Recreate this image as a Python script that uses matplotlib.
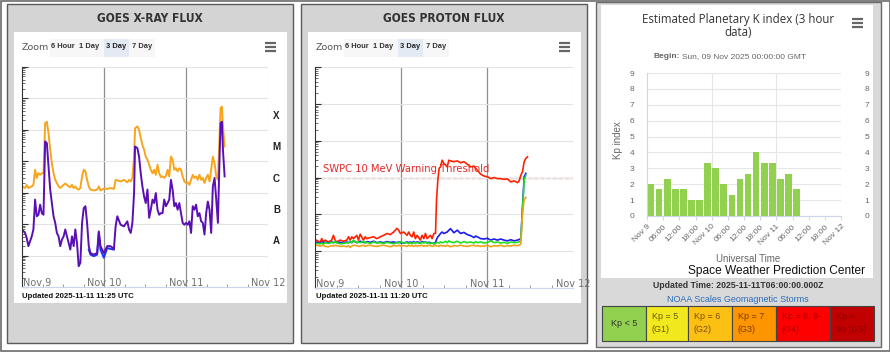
import numpy as np
import matplotlib
matplotlib.use('Agg')
import matplotlib.pyplot as plt
import matplotlib.transforms as mtransforms
from matplotlib.patches import Rectangle
from matplotlib.lines import Line2D
from matplotlib.ticker import LogLocator, NullFormatter

plt.rcParams['font.family'] = ['Liberation Sans', 'DejaVu Sans']

# ---------------- GOES X-ray flux (hours since Nov 9 00:00 UTC, log10 W/m^2) ----------------
xray_hours = [0.0, 0.89, 1.38, 1.87, 2.85, 3.34, 3.83, 4.32, 4.82, 5.31,
              5.80, 6.29, 6.78, 7.27, 7.76, 8.25, 8.74, 9.23, 9.72, 10.21,
              10.70, 11.20, 11.69, 12.18, 12.67, 13.16, 13.65, 14.14, 14.63, 15.12,
              15.61, 16.10, 16.59, 17.08, 17.58, 18.07, 18.56, 19.05, 19.54, 20.03,
              21.01, 21.99, 22.48, 22.97, 23.96, 24.94, 25.92, 26.90, 27.40, 27.89,
              28.87, 29.85, 30.83, 31.32, 31.82, 32.31, 32.80, 33.09, 33.77, 34.26,
              34.75, 35.24, 35.73, 36.22, 36.72, 37.21, 37.70, 38.19, 38.68, 39.17,
              39.66, 40.15, 40.64, 41.13, 41.63, 42.12, 42.61, 43.10, 43.59, 44.08,
              44.57, 45.06, 45.55, 46.04, 46.54, 47.03, 47.52, 48.01, 48.50, 48.99,
              49.48, 49.97, 50.46, 50.95, 51.45, 51.94, 52.43, 52.92, 53.41, 53.90,
              54.39, 54.88, 55.37, 55.86, 56.36, 56.85, 57.34, 57.83, 58.12, 58.51,
              58.81, 59.30]
xray_long_log = [-5.80, -5.85, -5.75, -5.85, -5.80, -5.75, -5.27, -5.53, -5.38, -5.43,
                 -5.38, -5.38, -3.79, -3.74, -4.11, -4.63, -5.06, -5.38, -5.59, -5.69,
                 -5.80, -5.85, -5.80, -5.75, -5.71, -5.75, -5.80, -5.82, -5.75, -5.85,
                 -5.80, -5.88, -5.90, -5.85, -5.48, -5.27, -5.32, -5.59, -5.80, -5.90,
                 -5.93, -5.90, -5.80, -5.93, -5.87, -5.88, -5.85, -5.88, -5.59, -5.61,
                 -5.64, -5.59, -5.67, -5.59, -5.64, -5.53, -4.85, -3.95, -3.89, -4.00,
                 -4.26, -4.48, -4.63, -4.85, -4.95, -5.11, -5.27, -5.38, -5.27, -5.43,
                 -5.11, -5.38, -5.50, -5.48, -5.53, -5.46, -5.27, -5.48, -4.85, -4.95,
                 -5.27, -5.22, -5.32, -5.22, -5.27, -5.48, -5.64, -5.69, -5.67, -5.75,
                 -5.59, -5.43, -5.53, -5.48, -5.59, -5.43, -5.59, -5.53, -5.69, -5.53,
                 -5.43, -5.64, -5.27, -4.85, -5.06, -5.48, -5.59, -4.21, -3.31, -3.26,
                 -3.89, -4.53]
xray_short_log = [-7.17, -7.28, -7.44, -7.70, -7.39, -7.17, -6.22, -6.75, -6.70, -6.38,
                  -6.65, -6.70, -4.37, -4.42, -5.16, -5.90, -6.33, -6.75, -6.96, -7.28,
                  -7.39, -7.70, -7.49, -7.39, -7.17, -7.39, -7.60, -7.81, -7.39, -7.70,
                  -7.17, -7.60, -8.34, -8.23, -6.96, -6.49, -6.43, -6.96, -7.70, -7.92,
                  -7.97, -7.92, -7.23, -7.70, -7.92, -7.70, -7.70, -7.79, -7.07, -6.75,
                  -7.02, -7.07, -6.91, -7.17, -7.28, -6.96, -6.01, -4.53, -4.58, -4.85,
                  -5.38, -5.80, -6.12, -6.33, -5.90, -6.80, -6.54, -6.22, -6.33, -6.01,
                  -6.54, -6.70, -6.65, -6.65, -6.22, -6.43, -6.33, -6.22, -5.59, -5.90,
                  -6.43, -6.33, -6.54, -6.33, -6.65, -6.96, -7.02, -6.96, -7.02, -6.91,
                  -7.28, -6.43, -6.54, -6.38, -6.75, -6.65, -6.91, -6.96, -7.33, -6.65,
                  -6.28, -6.54, -7.28, -5.80, -5.53, -6.22, -6.96, -4.85, -3.79, -3.74,
                  -4.63, -5.48]
# secondary satellite short channel, only visible where it departs from the primary
xray_short2_hours = [19.54, 20.03, 21.01, 21.99, 22.48, 22.97, 23.96, 24.94, 25.92, 26.90]
xray_short2_log = [-7.81, -7.97, -8.02, -7.97, -7.28, -7.81, -8.07, -7.76, -7.79, -7.81]

flare_classes = ['X', 'M', 'C', 'B', 'A']
flare_decades = [-4, -5, -6, -7, -8]
day_labels = ['Nov 9', 'Nov 10', 'Nov 11', 'Nov 12']

# ---------------- GOES proton flux (log10 pfu) ----------------
proton_hours = [0.0, 0.47, 1.40, 1.87, 2.34, 2.80, 3.74, 4.67, 5.14, 5.61,
                6.07, 7.01, 7.94, 8.87, 9.34, 9.81, 10.28, 10.74, 11.68, 12.14,
                12.61, 13.54, 14.01, 14.48, 15.41, 16.35, 17.28, 18.21, 19.15, 20.08,
                21.02, 21.95, 22.88, 23.35, 23.82, 24.75, 25.69, 26.15, 26.62, 27.09,
                27.55, 28.02, 28.49, 29.42, 29.89, 30.36, 30.82, 31.29, 31.76, 32.22,
                32.69, 33.16, 33.63, 33.91, 34.28, 34.65, 35.03, 35.49, 35.96, 36.43,
                36.89, 37.36, 37.83, 38.76, 39.70, 40.63, 41.56, 42.50, 43.43, 44.37,
                44.83, 45.30, 46.23, 47.17, 48.10, 49.04, 49.97, 50.90, 51.84, 52.77,
                53.71, 54.64, 55.57, 56.51, 56.98, 57.44, 57.91, 58.38, 58.84, 59.31]
p10_log = [-0.75, -0.70, -0.77, -0.66, -0.75, -0.70, -0.75, -0.70, -0.57, -0.70,
           -0.75, -0.70, -0.73, -0.70, -0.61, -0.70, -0.61, -0.66, -0.57, -0.70,
           -0.54, -0.70, -0.61, -0.66, -0.63, -0.61, -0.66, -0.61, -0.57, -0.52,
           -0.55, -0.48, -0.38, -0.43, -0.52, -0.48, -0.57, -0.48, -0.57, -0.61,
           -0.48, -0.66, -0.57, -0.70, -0.57, -0.66, -0.52, -0.66, -0.61, -0.57,
           -0.66, -0.52, -0.52, 0.39, 0.93, 1.25, 1.29, 1.47, 1.38, 1.34,
           1.29, 1.47, 1.45, 1.43, 1.45, 1.40, 1.43, 1.36, 1.29, 1.31,
           1.25, 1.20, 1.09, 1.04, 1.02, 0.97, 1.00, 0.97, 0.97, 0.95,
           0.96, 0.88, 0.91, 0.86, 0.91, 1.06, 1.16, 1.43, 1.52, 1.56]
p50_log = [-0.77, -0.76, -0.79, -0.75, -0.77, -0.76, -0.78, -0.75, -0.77, -0.74,
           -0.77, -0.76, -0.78, -0.75, -0.77, -0.74, -0.77, -0.72, -0.77, -0.75,
           -0.73, -0.76, -0.77, -0.74, -0.76, -0.73, -0.77, -0.75, -0.77, -0.74,
           -0.76, -0.75, -0.77, -0.75, -0.77, -0.78, -0.75, -0.77, -0.75, -0.77,
           -0.74, -0.77, -0.75, -0.77, -0.74, -0.76, -0.75, -0.77, -0.76, -0.77,
           -0.78, -0.79, -0.77, -0.68, -0.61, -0.57, -0.52, -0.48, -0.52, -0.50,
           -0.48, -0.43, -0.39, -0.50, -0.43, -0.52, -0.49, -0.55, -0.58, -0.63,
           -0.59, -0.61, -0.66, -0.67, -0.65, -0.70, -0.67, -0.70, -0.67, -0.70,
           -0.72, -0.69, -0.72, -0.70, -0.68, -0.67, 0.20, 1.02, 1.11, np.nan]
p100_log = [-0.81, -0.79, -0.80, -0.78, -0.81, -0.77, -0.79, -0.76, -0.78, -0.73,
            -0.77, -0.80, -0.79, -0.77, -0.78, -0.74, -0.77, -0.70, -0.77, -0.75,
            -0.77, -0.73, -0.78, -0.76, -0.79, -0.75, -0.78, -0.77, -0.79, -0.76,
            -0.78, -0.80, -0.76, -0.78, -0.74, -0.78, -0.77, -0.79, -0.77, -0.80,
            -0.76, -0.78, -0.77, -0.79, -0.76, -0.78, -0.75, -0.79, -0.77, -0.80,
            -0.77, -0.81, -0.79, -0.77, -0.76, -0.78, -0.75, -0.77, -0.76, -0.73,
            -0.77, -0.72, -0.75, -0.77, -0.73, -0.78, -0.74, -0.77, -0.75, -0.78,
            -0.74, -0.77, -0.75, -0.78, -0.76, -0.72, -0.77, -0.75, -0.78, -0.76,
            -0.79, -0.75, -0.77, -0.76, -0.75, -0.70, 0.11, 0.93, 1.06, np.nan]
p500_log = [-0.86, -0.84, -0.86, -0.85, -0.84, -0.87, -0.88, -0.85, -0.86, -0.84,
            -0.85, -0.87, -0.86, -0.88, -0.85, -0.90, -0.86, -0.84, -0.85, -0.87,
            -0.86, -0.84, -0.87, -0.85, -0.84, -0.86, -0.87, -0.85, -0.84, -0.86,
            -0.88, -0.85, -0.86, -0.84, -0.86, -0.85, -0.87, -0.84, -0.86, -0.85,
            -0.87, -0.84, -0.86, -0.85, -0.84, -0.87, -0.85, -0.86, -0.84, -0.85,
            -0.87, -0.86, -0.84, -0.86, -0.85, -0.87, -0.84, -0.86, -0.85, -0.87,
            -0.84, -0.86, -0.88, -0.85, -0.86, -0.84, -0.86, -0.87, -0.85, -0.84,
            -0.86, -0.85, -0.87, -0.86, -0.84, -0.88, -0.85, -0.86, -0.84, -0.87,
            -0.85, -0.86, -0.84, -0.85, -0.84, -0.80, 0.02, 0.40, 0.46, np.nan]
warning_threshold = 10  # pfu

# ---------------- Estimated planetary Kp (3 hour bins from Nov 9 00:00) ----------------
kp_values = [2.0, 1.67, 2.33, 1.67, 1.67, 1.0, 1.0, 3.33, 3.0, 2.0,
             1.33, 2.33, 2.67, 4.0, 3.33, 3.33, 2.33, 2.67, 1.67]
kp_ticklabels = ['Nov 9', '06:00', '12:00', '18:00', 'Nov 10', '06:00', '12:00',
                 '18:00', 'Nov 11', '06:00', '12:00', '18:00', 'Nov 12']
scale_labels = ['Kp < 5', 'Kp = 5\n(G1)', 'Kp = 6\n(G2)', 'Kp = 7\n(G3)',
                'Kp = 8, 9-\n(G4)', 'Kp =\n9o (G5)']
scale_colors = ['#92d050', '#f2e81e', '#fcc012', '#fd9500', '#fe0000', '#c20000']
scale_text_colors = ['#333333', '#6b5a12', '#7a4e10', '#7a3a10', '#b00000', '#8a0000']

# ---------------- figure, laid out in pixels ----------------
W, H = 890, 353
fig = plt.figure(figsize=(W / 100, H / 100), dpi=100)
fig.patch.set_facecolor('white')


def fbox(x0, y0, x1, y1):
    return [x0 / W, 1 - y1 / H, (x1 - x0) / W, (y1 - y0) / H]


def frect(x0, y0, x1, y1, **kw):
    kw.setdefault('zorder', -10)
    fig.add_artist(Rectangle((x0 / W, 1 - y1 / H), (x1 - x0) / W, (y1 - y0) / H,
                             transform=fig.transFigure, **kw))


def ftext(x, y, s, **kw):
    kw.setdefault('ha', 'center')
    kw.setdefault('va', 'center')
    return fig.text(x / W, 1 - y / H, s, **kw)


def fline(x0, y0, x1, y1, **kw):
    fig.add_artist(Line2D([x0 / W, x1 / W], [1 - y0 / H, 1 - y1 / H],
                          transform=fig.transFigure, **kw))


def hamburger(x0, x1, y):
    for dy in (-4, 0, 4):
        fline(x0, y + dy, x1, y + dy, color='#666666', lw=1.6, solid_capstyle='butt')


# outer frame
frect(0.5, 0.5, 889.5, 351, fc='white', ec='#6b6b6b', lw=1.2, zorder=-20)


def goes_panel(x0, title, updated):
    frect(x0, 4, x0 + 286, 343, fc='#d4d4d4', ec='#5a5a5a', lw=1.0)
    frect(x0 + 7, 32, x0 + 280, 303, fc='white', ec='none', zorder=-9)
    ftext(x0 + 143, 18, title, fontsize=8.6, fontweight='bold', color='#333333',
          family=['DejaVu Sans'], fontstretch='condensed')
    ftext(x0 + 15, 47, 'Zoom', ha='left', fontsize=6.8, color='#555555', family=['DejaVu Sans'])
    frect(x0 + 43, 39, x0 + 148, 57, fc='#f7f7f7', ec='none', zorder=-8)
    frect(x0 + 97, 39, x0 + 122, 57, fc='#e4eaf4', ec='none', zorder=-7)
    for cx, lab in zip([56, 82, 109, 135], ['6 Hour', '1 Day', '3 Day', '7 Day']):
        ftext(x0 + cx, 46, lab, fontsize=5.4, fontweight='bold',
              color='#222222' if lab == '3 Day' else '#333333')
    hamburger(x0 + 258, x0 + 269, 47)
    ftext(x0 + 15, 296, updated, ha='left', fontsize=5.6, fontweight='bold', color='#111111')


goes_panel(7, 'GOES X-RAY FLUX', 'Updated 2025-11-11 11:25 UTC')
goes_panel(301, 'GOES PROTON FLUX', 'Updated 2025-11-11 11:20 UTC')


def style_goes_axes(ax, ymin, ymax):
    ax.set_facecolor('none')
    ax.set_yscale('log')
    ax.set_ylim(ymin, ymax)
    ax.set_xlim(0, 72)
    ax.set_yticks([10.0 ** k for k in range(int(np.log10(ymin)), int(np.log10(ymax)) + 1)])
    ax.yaxis.set_minor_locator(LogLocator(base=10, subs=np.arange(2, 10)))
    ax.yaxis.set_minor_formatter(NullFormatter())
    ax.tick_params(axis='y', which='major', direction='in', length=4, width=0.8,
                   color='#333333', labelleft=False)
    ax.tick_params(axis='y', which='minor', direction='in', length=2.2, width=0.6,
                   color='#555555')
    ax.grid(axis='y', which='major', color='#e3e3e3', lw=0.8)
    ax.set_xticks([0, 24, 48, 72])
    ax.set_xticks(range(0, 73, 6), minor=True)
    ax.tick_params(axis='x', which='major', length=0, labelbottom=False)
    ax.tick_params(axis='x', which='minor', direction='in', length=2, width=0.7, color='#999999')
    for h in (24, 48):
        ax.axvline(h, color='#8f8f8f', lw=0.9, zorder=0.5)
    ax.axvline(72, color='#e3e3e3', lw=0.8, zorder=0.5)
    for s in ('top', 'right'):
        ax.spines[s].set_visible(False)
    ax.spines['left'].set_color('#333333')
    ax.spines['left'].set_linewidth(0.8)
    ax.spines['bottom'].set_color('#ccd6eb')
    ax.spines['bottom'].set_linewidth(0.8)
    trans = mtransforms.blended_transform_factory(ax.transData, ax.transAxes)
    for h, lab in zip([0, 24, 48, 72], day_labels):
        ax.text(h + (0.2 if h == 0 else 0), 0.02, lab, transform=trans,
                ha='left' if h == 0 else 'center', va='center', fontsize=7,
                color='#707070', family=['DejaVu Sans'], clip_on=False)


# X-ray flux
ax1 = fig.add_axes(fbox(22, 67, 268, 287))
style_goes_axes(ax1, 1e-9, 1e-2)
ax1.plot(xray_short2_hours, 10 ** np.array(xray_short2_log), color='#1f35f0', lw=1.4)
ax1.plot(xray_hours, 10 ** np.array(xray_long_log), color='#f7a51d', lw=1.4)
ax1.plot(xray_hours, 10 ** np.array(xray_short_log), color='#5a0fb4', lw=1.4)
trans1 = mtransforms.blended_transform_factory(ax1.transAxes, ax1.transData)
for lab, dec in zip(flare_classes, flare_decades):
    ax1.text(1.035, 10 ** (dec + 0.45), lab, transform=trans1, ha='center', va='center',
             fontsize=7, fontweight='bold', color='#222222', clip_on=False)

# Proton flux
ax2 = fig.add_axes(fbox(315, 67, 573, 288))
style_goes_axes(ax2, 1e-2, 1e4)
ax2.axhline(warning_threshold, color='#e02a2a', lw=0.9, ls=(0, (3, 2)), zorder=1)
ax2.text(2.2, warning_threshold * 1.25, 'SWPC 10 MeV Warning Threshold', ha='left',
         va='bottom', fontsize=7.2, color='#e02a2a', family=['DejaVu Sans'], zorder=1)
ax2.plot(proton_hours, 10 ** np.array(p10_log), color='#ff2200', lw=1.2, zorder=2)
ax2.plot(proton_hours, 10 ** np.array(p50_log), color='#1c1cf0', lw=1.2, zorder=2)
ax2.plot(proton_hours, 10 ** np.array(p100_log), color='#22e022', lw=1.2, zorder=2)
ax2.plot(proton_hours, 10 ** np.array(p500_log), color='#eba21e', lw=1.2, zorder=2)

# ---------------- Kp panel ----------------
frect(596, 2, 881, 347, fc='#d9d9d9', ec='#6a6a6a', lw=1.0)
frect(601, 5, 873, 278, fc='white', ec='none', zorder=-9)
ftext(738, 20, 'Estimated Planetary K index (3 hour', fontsize=8.3, color='#333333',
      family=['Open Sans', 'DejaVu Sans'])
ftext(738, 33, 'data)', fontsize=8.3, color='#333333', family=['Open Sans', 'DejaVu Sans'])
hamburger(852, 863, 23)
ftext(680, 57, 'Begin:', ha='right', fontsize=6, fontweight='bold', color='#666666')
ftext(682, 57, 'Sun, 09 Nov 2025 00:00:00 GMT', ha='left', fontsize=6, color='#666666')

ax3 = fig.add_axes(fbox(647, 73, 841, 216))
ax3.set_facecolor('none')
ax3.bar(np.arange(len(kp_values)) * 3 + 1.5, kp_values, width=2.5, color='#92d050', zorder=2)
ax3.set_xlim(0, 72)
ax3.set_ylim(0, 9)
ax3.set_yticks(range(10))
ax3.tick_params(axis='y', length=0, pad=9, labelsize=6, labelcolor='#666666')
ax3.set_xticks(range(0, 73, 6))
ax3.set_xticklabels(kp_ticklabels, rotation=45, ha='right', rotation_mode='anchor',
                    fontsize=6, color='#666666')
ax3.tick_params(axis='x', length=3, width=0.7, color='#ccd6eb', pad=2)
ax3.grid(axis='y', color='#e6e6e6', lw=0.8, zorder=0)
for h in (24, 48, 72):
    ax3.axvline(h, color='#e6e6e6', lw=0.8, zorder=0)
for s in ('top', 'right'):
    ax3.spines[s].set_visible(False)
ax3.spines['left'].set_color('#ccd6eb')
ax3.spines['bottom'].set_color('#ccd6eb')
ax3r = ax3.twinx()
ax3r.set_ylim(0, 9)
ax3r.set_yticks(range(10))
ax3r.tick_params(axis='y', length=0, pad=17, labelsize=6, labelcolor='#666666')
for s in ax3r.spines.values():
    s.set_visible(False)

ftext(618, 140, 'Kp index', rotation=90, fontsize=7, color='#666666')
ftext(748, 259, 'Universal Time', fontsize=7, color='#666666')
ftext(777, 271, 'Space Weather Prediction Center', fontsize=8.6, color='#111111')
ftext(738, 286, 'Updated Time: 2025-11-11T06:00:00.000Z', fontsize=6.3,
      fontweight='bold', color='#333333')
ftext(738, 299, 'NOAA Scales Geomagnetic Storms', fontsize=6.5, color='#2a6cb8')

# NOAA G-scale legend boxes
box_edges = [602, 646, 688, 732, 776, 830, 874]
for i, (lab, col, tcol) in enumerate(zip(scale_labels, scale_colors, scale_text_colors)):
    bx0, bx1 = box_edges[i], box_edges[i + 1]
    frect(bx0, 306, bx1, 341, fc=col, ec='#444444', lw=0.8, zorder=-5)
    if i == 0:
        ftext((bx0 + bx1) / 2, 323, lab, fontsize=6.5, color=tcol)
    else:
        ftext(bx0 + 6, 323, lab, ha='left', fontsize=6.5, color=tcol, linespacing=1.6)

fig.savefig('out.png', dpi=100)
